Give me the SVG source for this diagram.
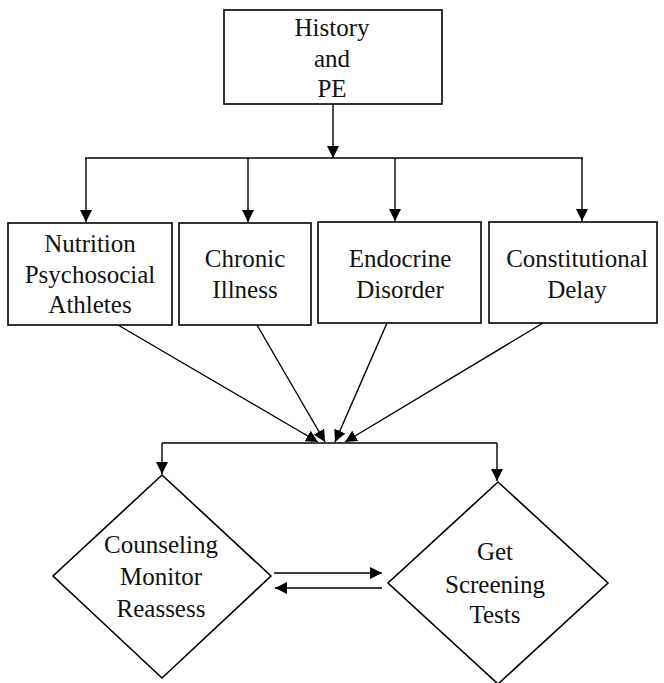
<svg xmlns="http://www.w3.org/2000/svg" width="664" height="683" viewBox="0 0 664 683">
  <style>
    .box { fill: #fff; stroke: #000; stroke-width: 1.6; }
    .lbl { font-family: 'Liberation Serif', 'Times New Roman', Times, 'DejaVu Serif', serif; font-size: 25px; fill: #111; text-anchor: middle; }
    .conn { fill: none; stroke: #000; stroke-width: 1.4; }
  </style>
  <defs>
    <marker id="head" markerUnits="userSpaceOnUse" markerWidth="13" markerHeight="12" refX="12" refY="6" orient="auto">
      <path d="M0,0 L12,6 L0,12 Z" fill="#000"/>
    </marker>
  </defs>
  <rect width="664" height="683" fill="#fff"/>

  <g id="connectors">
    <!-- history to branch bar -->
    <line class="conn" x1="333" y1="104" x2="333" y2="158" marker-end="url(#head)"/>
    <line class="conn" x1="85" y1="158" x2="583" y2="158"/>
    <line class="conn" x1="86" y1="158" x2="86" y2="222" marker-end="url(#head)"/>
    <line class="conn" x1="248" y1="158" x2="248" y2="222" marker-end="url(#head)"/>
    <line class="conn" x1="395" y1="158" x2="395" y2="221" marker-end="url(#head)"/>
    <line class="conn" x1="582" y1="158" x2="582" y2="221" marker-end="url(#head)"/>
    <!-- causes converge -->
    <line class="conn" x1="118" y1="325" x2="318" y2="442" marker-end="url(#head)"/>
    <line class="conn" x1="257" y1="325" x2="325" y2="442" marker-end="url(#head)"/>
    <line class="conn" x1="387" y1="323" x2="335" y2="442" marker-end="url(#head)"/>
    <line class="conn" x1="543" y1="323" x2="345" y2="442" marker-end="url(#head)"/>
    <!-- split to actions -->
    <line class="conn" x1="162" y1="443" x2="497" y2="443"/>
    <line class="conn" x1="162" y1="443" x2="162" y2="474" marker-end="url(#head)"/>
    <line class="conn" x1="497" y1="443" x2="497" y2="481" marker-end="url(#head)"/>
    <!-- between diamonds -->
    <line class="conn" x1="274" y1="573" x2="382" y2="573" marker-end="url(#head)"/>
    <line class="conn" x1="382" y1="588" x2="275" y2="588" marker-end="url(#head)"/>
  </g>

  <g id="history">
    <rect class="box" x="224" y="10" width="218" height="94"/>
    <text class="lbl" x="332" y="36">History</text>
    <text class="lbl" x="332" y="67">and</text>
    <text class="lbl" x="332" y="97">PE</text>
  </g>

  <g id="nutrition">
    <rect class="box" x="8" y="223" width="164" height="102"/>
    <text class="lbl" x="90" y="252">Nutrition</text>
    <text class="lbl" x="90" y="283">Psychosocial</text>
    <text class="lbl" x="90" y="313">Athletes</text>
  </g>

  <g id="chronic">
    <rect class="box" x="179" y="223" width="132" height="102"/>
    <text class="lbl" x="245" y="267">Chronic</text>
    <text class="lbl" x="245" y="298">Illness</text>
  </g>

  <g id="endocrine">
    <rect class="box" x="318" y="222" width="163" height="101"/>
    <text class="lbl" x="400" y="267">Endocrine</text>
    <text class="lbl" x="400" y="298">Disorder</text>
  </g>

  <g id="constitutional">
    <rect class="box" x="489" y="222" width="168" height="101"/>
    <text class="lbl" x="577" y="267">Constitutional</text>
    <text class="lbl" x="577" y="298">Delay</text>
  </g>

  <g id="counseling">
    <polygon class="box" points="162,475 271,576 162,678 53,576"/>
    <text class="lbl" x="161" y="553">Counseling</text>
    <text class="lbl" x="161" y="585">Monitor</text>
    <text class="lbl" x="161" y="617">Reassess</text>
  </g>

  <g id="screening">
    <polygon class="box" points="498,482 608,583 498,684 388,583"/>
    <text class="lbl" x="495" y="560">Get</text>
    <text class="lbl" x="495" y="593">Screening</text>
    <text class="lbl" x="495" y="623">Tests</text>
  </g>
</svg>
